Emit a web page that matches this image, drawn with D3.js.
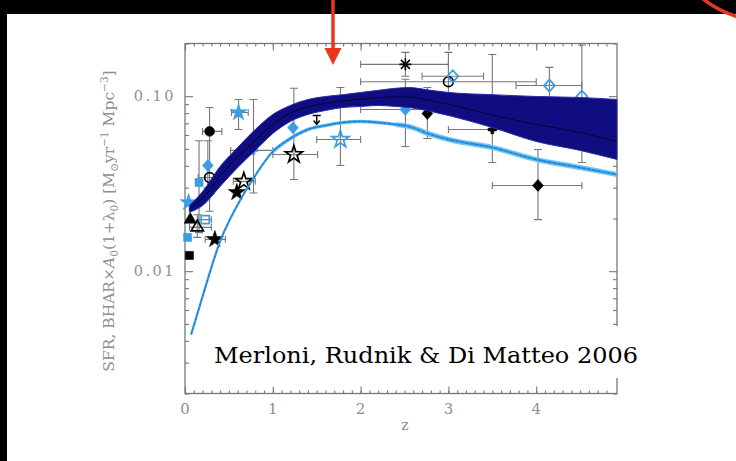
<!DOCTYPE html>
<html>
<head>
<meta charset="utf-8">
<script src="https://cdn.jsdelivr.net/npm/d3@7"></script>
<style>
  html, body { margin: 0; padding: 0; background: #000; }
  svg { display: block; }
</style>
</head>
<body>
<svg id="chart" width="736" height="461"></svg>
<script>
// Redshift grid shared by the model curves
const modelZ = [0.05, 0.2, 0.4, 0.6, 0.8, 1.0, 1.2, 1.4, 1.6, 1.8, 2.0, 2.2, 2.4, 2.55, 2.8, 3.0, 3.5, 4.0, 4.5, 4.92];
// Black hole accretion rate density: envelope and central track
const bharUpper = [0.0237, 0.0285, 0.0397, 0.0509, 0.0645, 0.0786, 0.0885, 0.0957, 0.0996, 0.102, 0.105, 0.108, 0.111, 0.112, 0.108, 0.105, 0.102, 0.0996, 0.0983, 0.0957];
const bharLower = [0.0217, 0.0237, 0.0305, 0.0391, 0.0490, 0.0612, 0.0717, 0.0786, 0.0828, 0.0862, 0.0873, 0.0885, 0.0873, 0.0862, 0.0818, 0.0776, 0.0662, 0.0551, 0.0490, 0.0435];
const bharMid   = [0.0227, 0.0260, 0.0350, 0.0450, 0.0560, 0.0690, 0.0800, 0.0870, 0.0910, 0.0940, 0.0960, 0.0980, 0.0990, 0.0990, 0.0940, 0.0900, 0.0780, 0.0690, 0.0620, 0.0550];
// Star formation rate density model
const sfrZ   = [0.07, 0.2, 0.4, 0.6, 0.8, 1.0, 1.2, 1.4, 1.6, 1.8, 2.0, 2.2, 2.4, 2.55, 2.8, 3.0, 3.5, 4.0, 4.5, 4.92];
const sfrVal = [0.00435, 0.00717, 0.0148, 0.0240, 0.0352, 0.0483, 0.0573, 0.0645, 0.0680, 0.0707, 0.0717, 0.0707, 0.0689, 0.0671, 0.0604, 0.0566, 0.0509, 0.0435, 0.0391, 0.0357];

// Observational estimates: [z, value, zLow, zHigh, valueLow, valueHigh]
const obsData = [
  [2.51, 0.152, 2.0, 3.0, 0.130, 0.178],
  [3.00, 0.121, 2.0, 4.0, 0.084, 0.178],
  [3.05, 0.130, 2.7, 3.4, null, null],
  [4.15, 0.115, 3.77, 4.52, 0.0957, 0.146],
  [4.52, 0.0996, null, null, 0.0418, 0.196],
  [3.50, 0.0645, 3.0, 4.0, 0.0418, 0.173],
  [4.02, 0.0309, 3.5, 4.52, 0.0197, 0.0496],
  [2.76, 0.0796, null, null, 0.0573, 0.112],
  [2.51, 0.0839, 2.0, 3.0, 0.0516, 0.125],
  [1.77, 0.0566, 1.5, 2.0, 0.0402, 0.112],
  [1.24, 0.0464, 1.0, 1.51, 0.0334, 0.111],
  [1.50, 0.0736, null, null, null, null],
  [1.23, 0.0660, null, null, null, null],
  [0.61, 0.0807, 0.53, 0.72, 0.0645, 0.0957],
  [0.67, 0.0326, 0.55, 0.80, null, null],
  [0.59, 0.0282, null, null, null, null],
  [0.78, 0.0490, 0.52, 1.0, 0.028, 0.0957],
  [0.28, 0.0629, 0.2, 0.42, 0.022, 0.0862],
  [0.26, 0.0402, null, null, 0.030, 0.0556],
  [0.16, 0.0321, null, null, 0.0166, 0.0556],
  [0.28, 0.0343, 0.15, 0.42, null, null],
  [0.34, 0.0152, 0.23, 0.46, null, null],
  [0.05, 0.0123, null, null, null, null],
  [0.06, 0.0197, null, null, null, null],
  [0.14, 0.0178, 0.05, 0.30, 0.0156, 0.0210],
  [0.03, 0.0156, null, null, null, null],
  [0.23, 0.0197, 0.15, 0.30, null, null],
  [0.04, 0.0247, null, null, null, null]
];
// Marker for each estimate: shape-colour-fill
const obsMarkers = [
  "asterisk-k-f", "circle-k-o", "diamond-b-o", "diamond-b-o", "diamond-b-o",
  "cross-k-f", "diamond-k-f", "diamond-k-f", "diamond-b-f", "star-b-o",
  "star-k-o", "limit-k-f", "diamond-b-f", "star-b-f", "star-k-o",
  "star-k-f", "cross-b-f", "circle-k-f", "diamond-b-f", "square-b-f",
  "circle-k-o", "star-k-f", "square-k-f", "triangle-k-f", "triangle-k-o",
  "square-b-f", "square-b-o", "star-b-f"
];

const xTicks = [0, 1, 2, 3, 4];
const yTicks = [0.01, 0.1];
const yTickLabels = ["0.01", "0.10"];
const credit = "Merloni, Rudnik & Di Matteo 2006";

const svg = d3.select("#chart");

// slide background
svg.append("rect").attr("x", 7).attr("y", 14).attr("width", 729).attr("height", 447).attr("fill", "#fff");

const x = d3.scaleLinear().domain([0, 4.92]).range([185, 617]);
const y = d3.scaleLog().domain([0.002, 0.2]).range([393.5, 43.5]);

const grey = "#777";
const labelGrey = "#8f8f8f";

const plot = svg.append("g");
plot.append("clipPath").attr("id", "clip")
  .append("rect").attr("x", 185).attr("y", 43.5).attr("width", 432).attr("height", 350);

// axes with inward ticks on all four sides
const xMinor = d3.range(0, 49).map(i => i / 10).filter(v => v <= 4.92);
const yMinor = [];
[0.001, 0.01, 0.1].forEach(d => { for (let k = 2; k <= 9; k++) { const v = d * k; if (v >= 0.002 && v <= 0.2) yMinor.push(v); } });

function styleAxis(g) {
  g.select(".domain").remove();
  g.selectAll(".tick line").attr("stroke", grey).attr("stroke-width", 1.1);
  g.selectAll(".tick text").remove();
}
plot.append("g").attr("transform", "translate(0,393.5)").call(d3.axisBottom(x).tickValues(xMinor).tickSize(-3)).call(styleAxis);
plot.append("g").attr("transform", "translate(0,393.5)").call(d3.axisBottom(x).tickValues(xTicks).tickSize(-7)).call(styleAxis);
plot.append("g").attr("transform", "translate(0,43.5)").call(d3.axisTop(x).tickValues(xMinor).tickSize(-3)).call(styleAxis);
plot.append("g").attr("transform", "translate(0,43.5)").call(d3.axisTop(x).tickValues(xTicks).tickSize(-7)).call(styleAxis);
plot.append("g").attr("transform", "translate(185,0)").call(d3.axisLeft(y).tickValues(yMinor).tickSize(-4)).call(styleAxis);
plot.append("g").attr("transform", "translate(185,0)").call(d3.axisLeft(y).tickValues(yTicks).tickSize(-8)).call(styleAxis);
plot.append("g").attr("transform", "translate(617,0)").call(d3.axisRight(y).tickValues(yMinor).tickSize(-4)).call(styleAxis);
plot.append("g").attr("transform", "translate(617,0)").call(d3.axisRight(y).tickValues(yTicks).tickSize(-8)).call(styleAxis);

plot.append("rect").attr("x", 185).attr("y", 43.5).attr("width", 432).attr("height", 350)
  .attr("fill", "none").attr("stroke", grey).attr("stroke-width", 1.3);

// tick labels
const labelFont = "'DejaVu Serif', serif";
svg.append("g").selectAll("text").data(xTicks).join("text")
  .attr("x", d => x(d)).attr("y", 414).attr("text-anchor", "middle")
  .attr("font-family", labelFont).attr("font-size", 15).attr("fill", labelGrey)
  .text(d => d);
svg.append("g").selectAll("text").data(yTicks).join("text")
  .attr("x", 176).attr("y", d => y(d) + 5).attr("text-anchor", "end")
  .attr("font-family", labelFont).attr("font-size", 14.5).attr("letter-spacing", 2.5).attr("fill", labelGrey)
  .text((d, i) => yTickLabels[i]);
svg.append("text").attr("x", 405).attr("y", 430).attr("text-anchor", "middle")
  .attr("font-family", labelFont).attr("font-size", 14).attr("fill", labelGrey).text("z");

// y-axis title
const yt = svg.append("text").attr("transform", "translate(114,221) rotate(-90)")
  .attr("text-anchor", "middle").attr("font-family", labelFont).attr("font-size", 15.5)
  .attr("fill", labelGrey);
yt.append("tspan").text("SFR,  BHAR×");
yt.append("tspan").attr("font-style", "italic").text("A");
yt.append("tspan").attr("font-size", 10.5).attr("dy", 4).text("0");
yt.append("tspan").attr("dy", -4).text("(1+λ");
yt.append("tspan").attr("font-size", 10.5).attr("dy", 4).text("0");
yt.append("tspan").attr("dy", -4).text(")  [M");
yt.append("tspan").attr("font-size", 10.5).attr("dy", 4).text("⊙");
yt.append("tspan").attr("dy", -4).text("yr");
yt.append("tspan").attr("font-size", 10.5).attr("dy", -6).text("−1");
yt.append("tspan").attr("dy", 6).text("  Mpc");
yt.append("tspan").attr("font-size", 10.5).attr("dy", -6).text("−3");
yt.append("tspan").attr("dy", 6).text("]");

// observational points and error bars
const obs = obsData.map((r, i) => {
  const [shape, tone, fill] = obsMarkers[i].split("-");
  return { z: r[0], v: r[1], zLo: r[2], zHi: r[3], vLo: r[4], vHi: r[5], shape, tone, fill };
});
const errG = plot.append("g").attr("clip-path", "url(#clip)")
  .attr("stroke", "#777").attr("stroke-width", 1.1).attr("fill", "none");
obs.forEach(d => {
  const cx = x(d.z), cy = y(d.v);
  if (d.zLo != null) {
    errG.append("line").attr("x1", x(d.zLo)).attr("x2", x(d.zHi)).attr("y1", cy).attr("y2", cy);
    errG.append("line").attr("x1", x(d.zLo)).attr("x2", x(d.zLo)).attr("y1", cy - 3.5).attr("y2", cy + 3.5);
    errG.append("line").attr("x1", x(d.zHi)).attr("x2", x(d.zHi)).attr("y1", cy - 3.5).attr("y2", cy + 3.5);
  }
  if (d.vLo != null) {
    errG.append("line").attr("x1", cx).attr("x2", cx).attr("y1", y(d.vLo)).attr("y2", y(d.vHi));
    errG.append("line").attr("x1", cx - 4).attr("x2", cx + 4).attr("y1", y(d.vLo)).attr("y2", y(d.vLo));
    errG.append("line").attr("x1", cx - 4).attr("x2", cx + 4).attr("y1", y(d.vHi)).attr("y2", y(d.vHi));
  }
});

const symbolTypes = {
  circle: [d3.symbolCircle, 75], diamond: [d3.symbolDiamond, 65], square: [d3.symbolSquare, 65],
  triangle: [d3.symbolTriangle, 65], star: [d3.symbolStar, 90], cross: [d3.symbolCross, 40]
};
const toneColor = { k: "#000", b: "#3a9ee6" };
const markG = plot.append("g");
obs.forEach(d => {
  const cx = x(d.z), cy = y(d.v);
  const c = toneColor[d.tone];
  const g = markG.append("g").attr("transform", `translate(${cx},${cy})`);
  if (d.shape === "asterisk") {
    g.append("path").attr("d", "M-6,0H6M0,-6V6M-4.5,-4.5L4.5,4.5M-4.5,4.5L4.5,-4.5")
      .attr("stroke", c).attr("stroke-width", 1.6);
  } else if (d.shape === "limit") {
    g.append("path").attr("d", "M-4,-4H4M0,-4V5M-3,1L0,5L3,1")
      .attr("stroke", c).attr("stroke-width", 1.4).attr("fill", "none");
  } else {
    const [t, s] = symbolTypes[d.shape];
    const p = g.append("path").attr("d", d3.symbol(t, s)());
    if (d.shape === "diamond") p.attr("transform", "scale(1.25,0.8)");
    if (d.fill === "f") p.attr("fill", c).attr("stroke", c).attr("stroke-width", 0.6);
    else p.attr("fill", "none").attr("stroke", c).attr("stroke-width", 1.7);
  }
});

// BHAR envelope
const bandRows = modelZ.map((z, i) => ({ z, hi: bharUpper[i], lo: bharLower[i], mid: bharMid[i] }));
plot.append("path").datum(bandRows)
  .attr("d", d3.area().x(d => x(d.z)).y0(d => y(d.lo)).y1(d => y(d.hi)).curve(d3.curveMonotoneX))
  .attr("fill", "#0f0d80").attr("stroke", "#2a2aa8").attr("stroke-width", 1);
plot.append("path").datum(bandRows)
  .attr("d", d3.line().x(d => x(d.z)).y(d => y(d.mid)).curve(d3.curveMonotoneX))
  .attr("fill", "none").attr("stroke", "#05052e").attr("stroke-width", 1);

// SFR model curve: light halo widens toward high redshift
const sfrRows = sfrZ.map((z, i) => ({ z, v: sfrVal[i] }));
const sfrLine = d3.line().x(d => x(d.z)).y(d => y(d.v)).curve(d3.curveMonotoneX);
plot.append("path").datum(sfrRows.filter(d => d.z >= 2.4)).attr("d", sfrLine)
  .attr("fill", "none").attr("stroke", "#72c6f6").attr("stroke-width", 5.2);
plot.append("path").datum(sfrRows.filter(d => d.z >= 1.0)).attr("d", sfrLine)
  .attr("fill", "none").attr("stroke", "#72c6f6").attr("stroke-width", 3.6);
plot.append("path").datum(sfrRows).attr("d", sfrLine)
  .attr("fill", "none").attr("stroke", "#2f98e2").attr("stroke-width", 2.2);
plot.append("path").datum(sfrRows).attr("d", sfrLine)
  .attr("fill", "none").attr("stroke", "#1a64b0").attr("stroke-width", 0.8).attr("stroke-dasharray", "2,3");

// credit label on white panel
svg.append("rect").attr("x", 198).attr("y", 326).attr("width", 450).attr("height", 52).attr("fill", "#fff");
svg.append("text").attr("x", 214).attr("y", 363)
  .attr("font-family", "'DejaVu Serif', serif").attr("font-size", 22)
  .attr("textLength", 424).attr("lengthAdjust", "spacingAndGlyphs")
  .attr("fill", "#000").text(credit);

// red pointer arrow and corner stroke
svg.append("line").attr("x1", 333).attr("x2", 333).attr("y1", 0).attr("y2", 50)
  .attr("stroke", "#e8361f").attr("stroke-width", 3.5);
svg.append("path").attr("d", "M324.5,48L341.5,48L333,65Z").attr("fill", "#e8361f");
svg.append("path").attr("d", "M702,-2Q716,10 738,17").attr("fill", "none")
  .attr("stroke", "#e8361f").attr("stroke-width", 3.5);
</script>
</body>
</html>
